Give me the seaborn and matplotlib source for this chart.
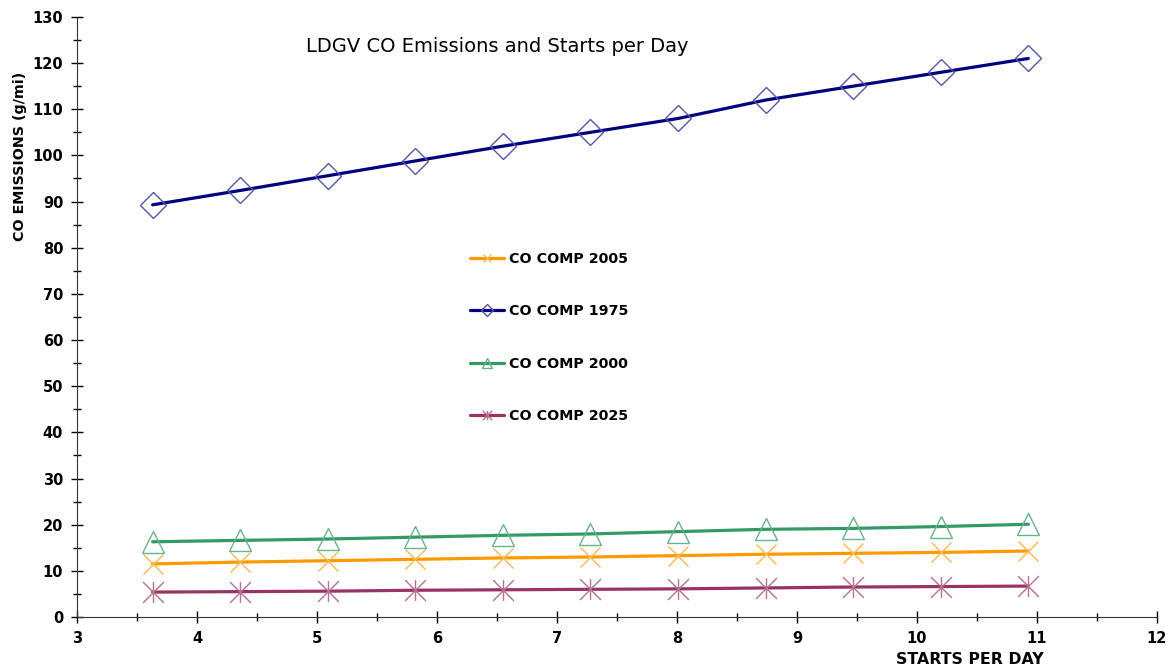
"""
LDGV CO Emissions and Starts per Day
"""

import matplotlib
matplotlib.use('Agg')
import matplotlib.pyplot as plt
import seaborn as sns
import pandas as pd
from matplotlib.ticker import MultipleLocator
from matplotlib.path import Path

sns.set_style('ticks')
plt.rcParams['font.family'] = ['DejaVu Sans']
plt.rcParams['text.color'] = 'black'
plt.rcParams['xtick.color'] = 'black'
plt.rcParams['ytick.color'] = 'black'

# dados
starts = [3.63, 4.36, 5.09, 5.82, 6.55, 7.28, 8.01, 8.74, 9.47, 10.20, 10.93]
co_2005 = [11.5, 11.9, 12.2, 12.5, 12.8, 13.0, 13.3, 13.6, 13.8, 14.0, 14.3]
co_1975 = [89.3, 92.4, 95.6, 98.8, 102.0, 105.0, 108.0, 112.0, 115.0, 118.0, 121.0]
co_2000 = [16.3, 16.6, 16.9, 17.3, 17.7, 18.0, 18.5, 19.0, 19.2, 19.6, 20.1]
co_2025 = [5.4, 5.5, 5.6, 5.8, 5.9, 6.0, 6.1, 6.3, 6.5, 6.6, 6.7]

series = {
    'CO COMP 2005': co_2005,
    'CO COMP 1975': co_1975,
    'CO COMP 2000': co_2000,
    'CO COMP 2025': co_2025,
}

# asterisco estilo Excel: linha vertical + X
asterisco = Path([(0, -1), (0, 1), (-1, -1), (1, 1), (-1, 1), (1, -1)],
                 [Path.MOVETO, Path.LINETO, Path.MOVETO, Path.LINETO,
                  Path.MOVETO, Path.LINETO])

# estilo de cada série: cor da linha, cor do marcador, marcador, tamanho
estilos = {
    'CO COMP 2005': ('#FF9900', '#FFB84D', 'x', 14),
    'CO COMP 1975': ('#000080', '#5555AA', 'D', 13),
    'CO COMP 2000': ('#339966', '#66B38C', '^', 16),
    'CO COMP 2025': ('#993366', '#B8708F', asterisco, 15),
}

fig = plt.figure(figsize=(11.71, 6.69), dpi=100)
ax = fig.add_axes([0.0658, 0.0777, 0.922, 0.897])

for nome, valores in series.items():
    cor, cor_marc, marc, tam = estilos[nome]
    df = pd.DataFrame({'x': starts, 'y': valores})
    sns.lineplot(data=df, x='x', y='y', ax=ax, color=cor, linewidth=2.3,
                 marker=marc, markersize=tam, markerfacecolor='none',
                 markeredgecolor=cor_marc, markeredgewidth=1, label=nome)

ax.set_xlim(3, 12)
ax.set_ylim(0, 130)
ax.xaxis.set_major_locator(MultipleLocator(1))
ax.xaxis.set_minor_locator(MultipleLocator(0.5))
ax.yaxis.set_major_locator(MultipleLocator(10))
ax.yaxis.set_minor_locator(MultipleLocator(5))
ax.tick_params(axis='both', which='major', direction='inout', length=8,
               width=1, labelsize=10.5, pad=6)
ax.tick_params(axis='both', which='minor', direction='inout', length=6, width=1)
for lbl in ax.get_xticklabels() + ax.get_yticklabels():
    lbl.set_fontweight('bold')

sns.despine(ax=ax)
ax.spines['left'].set_color('#333333')
ax.spines['bottom'].set_color('#333333')

ax.set_xlabel('')
ax.set_ylabel('')
fig.text(0.017, 1 - 156 / 669, 'CO EMISSIONS (g/mi)', fontsize=10.3,
         fontweight='bold', rotation=90, ha='center', va='center')
fig.text(0.828, 1 - 659 / 669, 'STARTS PER DAY', fontsize=11.3,
         fontweight='bold', ha='center', va='center')
fig.text(0.425, 1 - 47 / 669, 'LDGV CO Emissions and Starts per Day',
         fontsize=14, ha='center', va='center')

leg = ax.legend(loc='upper left', bbox_to_anchor=(0.352, 0.63), frameon=False,
                markerscale=0.45, labelspacing=2.68, handlelength=2.4,
                handletextpad=0.3, prop={'weight': 'bold', 'size': 10.3})

plt.savefig('out.png', dpi=100)
